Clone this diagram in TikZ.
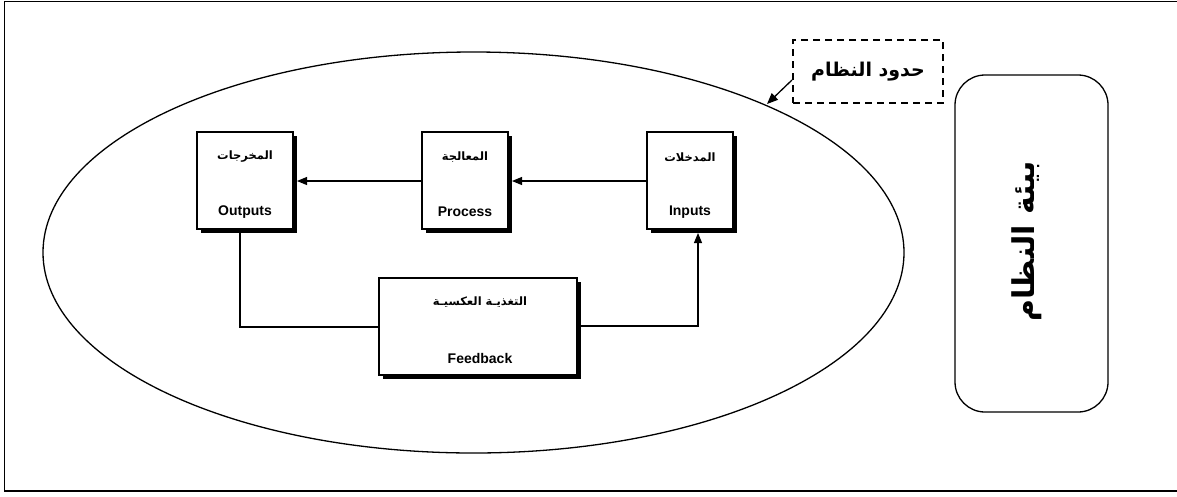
\documentclass[tikz,border=0pt]{standalone}
\usepackage{fontspec}
\setmainfont{Liberation Sans}
\newfontfamily\arabicfont[Script=Arabic]{DejaVu Sans}
\TeXXeTstate=1
\usetikzlibrary{arrows.meta,shapes.geometric}
\tikzset{
  box/.style={draw=black, line width=1.1pt, fill=white},
  flow/.style={line width=1.1pt, -{Triangle[length=10pt,width=8pt]}},
  link/.style={line width=1.1pt},
  eng/.style={font=\fontsize{14}{16}\selectfont\bfseries},
  arab/.style={font=\fontsize{11.5}{14}\selectfont\arabicfont\bfseries},
}
\begin{document}
\begin{tikzpicture}[x=1pt,y=-1pt]
\useasboundingbox (0,0) rectangle (1177,496);
% outer frame (right side cut off)
\draw[line width=1.8pt] (1180,1.5) -- (4.5,1.5) -- (4.5,491) -- (1180,491);
% system boundary ellipse
\node[draw, ellipse, line width=1.3pt, minimum width=861pt, minimum height=401pt, inner sep=0pt] (sys) at (473.5,252.5) {};
% shadows
\fill (201,136) rectangle (297,233);
\fill (426,136) rectangle (512,233);
\fill (651,136) rectangle (737,233);
\fill (383,282) rectangle (581,379);
% boxes
\draw[box] (197,132) rectangle (293,229);
\draw[box] (422,132) rectangle (508,229);
\draw[box] (647,132) rectangle (733,229);
\draw[box] (379,278) rectangle (577,375);
\coordinate (outR) at (297,181);
\coordinate (procL) at (422,181);
\coordinate (procR) at (512,181);
\coordinate (inL) at (647,181);
\node[arab] (tout) at (245,157) {\beginR المخرجات\endR};
\node[eng] (eout) at (245,212) {Outputs};
\node[arab] (tproc) at (465,157) {\beginR المعالجة\endR};
\node[eng] (eproc) at (465,212) {Process};
\node[arab] (tin) at (690,157) {\beginR المدخلات\endR};
\node[eng] (ein) at (690,212) {Inputs};
\node[arab] (tfb) at (480,302) {\beginR التغذيـة العكسيـة\endR};
\node[eng] (efb) at (480,358) {Feedback};
% arrows
\draw[flow] (procL) -- (outR);
\draw[flow] (inL) -- (procR);
\coordinate (outB) at (240,229);
\coordinate (fbL) at (379,327);
\coordinate (fbR) at (577,326);
\coordinate (inB) at (698,233);
\draw[link] (outB) |- (fbL);
\draw[flow] (fbR) -| (inB);
% system boundary label
\node[draw, line width=1.8pt, dash pattern=on 7pt off 5pt, minimum width=150pt, minimum height=63pt, font=\fontsize{19}{22}\selectfont\arabicfont\bfseries] (bnd) at (868,71.5) {\beginR حدود النظام\endR};
\coordinate (tip) at (767,104);
\draw[line width=1.3pt, -{Triangle[length=11pt,width=9pt]}] (792,80) -- (tip);
% environment
\draw[line width=1.3pt, rounded corners=30pt] (955,75) rectangle (1108,412);
\node[rotate=90, font=\fontsize{30}{34}\selectfont\arabicfont\bfseries] (env) at (1027,241) {\beginR بيئة النظام\endR};
\end{tikzpicture}
\end{document}
